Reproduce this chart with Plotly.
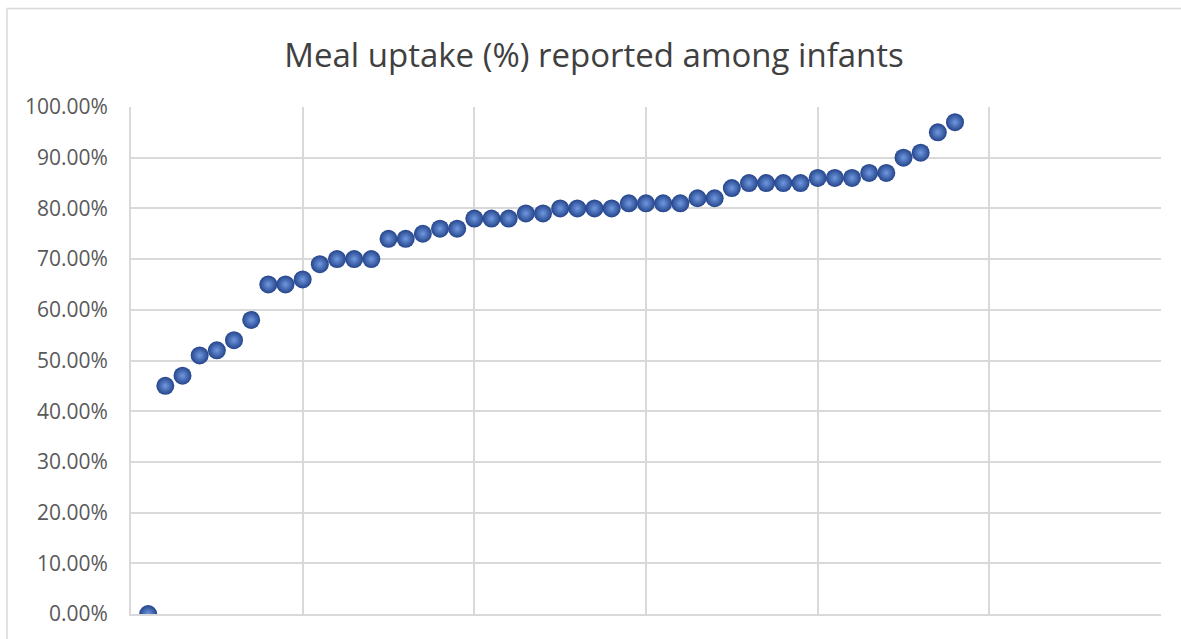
import plotly.graph_objects as go

title = "Meal uptake (%) reported among infants"
infant_index = list(range(1, 49))
uptake_pct = [0, 45, 47, 51, 52, 54, 58, 65, 65, 66, 69, 70, 70, 70, 74, 74, 75, 76, 76,
              78, 78, 78, 79, 79, 80, 80, 80, 80, 81, 81, 81, 81, 82, 82, 84, 85, 85, 85,
              85, 86, 86, 86, 87, 87, 90, 91, 95, 97]
uptake = [v / 100 for v in uptake_pct]

W, H = 1181, 639
L, R, T, B = 131, 20, 107, 23

fig = go.Figure()
fig.add_trace(go.Scatter(
    x=infant_index, y=uptake, mode="markers",
    marker=dict(size=18, color="#24448B",
                gradient=dict(type="radial", color="#7099E0"),
                line=dict(width=0)),
    hoverinfo="x+y", showlegend=False,
))

grid = "#d9d9d9"
fig.update_layout(
    width=W, height=H,
    margin=dict(l=L, r=R, t=T, b=B),
    paper_bgcolor="white", plot_bgcolor="white",
    font=dict(family="Open Sans, sans-serif", color="#595959"),
    title=dict(text=title, x=0.503, xref="container", xanchor="center",
               y=1 - 55 / H, yref="container", yanchor="middle",
               font=dict(size=33, color="#404040")),
    xaxis=dict(range=[0, 60], dtick=10, showticklabels=False, showgrid=True,
               gridcolor=grid, gridwidth=1.8, zeroline=False, showline=True,
               linecolor=grid, linewidth=1.8, mirror=False),
    yaxis=dict(range=[0, 1], dtick=0.1, tickformat=".2%", showgrid=True,
               gridcolor=grid, gridwidth=1.8, zeroline=False, showline=True,
               linecolor=grid, linewidth=1.8, ticklabelstandoff=17,
               tickfont=dict(size=21, color="#595959")),
)

# outer chart border (extends past the right/bottom edge like the reference)
fig.add_shape(type="rect", xref="paper", yref="paper",
              x0=(7 - L) / (W - L - R), x1=(1190 - L) / (W - L - R),
              y0=-(B + 10) / (H - T - B), y1=(H - 8 - B) / (H - T - B),
              line=dict(color="#d9d9d9", width=1.5), fillcolor="rgba(0,0,0,0)",
              layer="below")

fig.write_html("out.html", config={"displayModeBar": False},
               post_script="document.body.style.margin='0';document.body.style.overflow='hidden';")
